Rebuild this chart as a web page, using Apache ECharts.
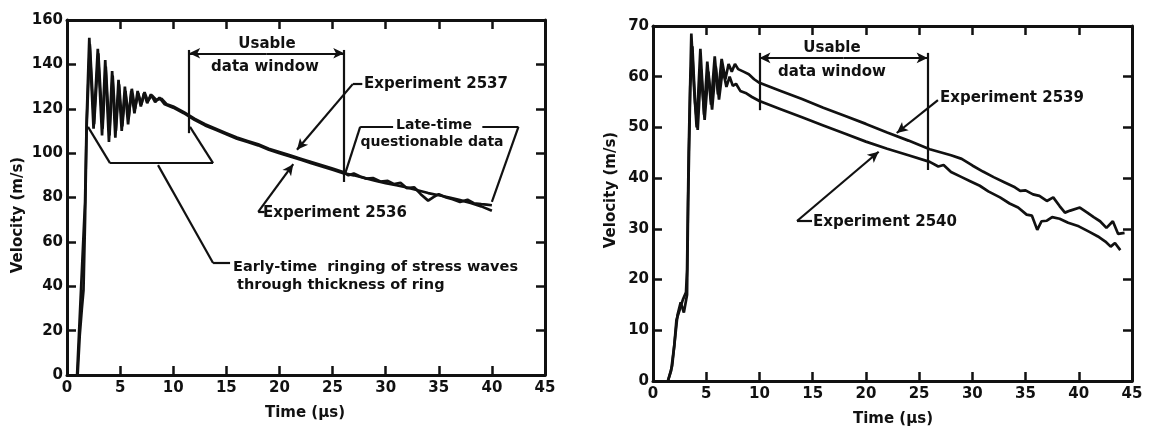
<!DOCTYPE html>
<html>
<head>
<meta charset="utf-8">
<script src="https://cdn.jsdelivr.net/npm/echarts@6/dist/echarts.min.js"></script>
<style>
  html, body { margin: 0; padding: 0; background: #fff; }
  #chart { width: 1151px; height: 430px; }
</style>
</head>
<body>
<div id="chart"></div>
<script>
// left panel: experiments 2536 / 2537 (time in us, velocity in m/s)
const t2536 = [0.95, 1.7, 1.85, 2.1, 2.5, 2.9, 3.3, 3.6, 3.95, 4.25, 4.55, 4.85, 5.15, 5.45, 5.75, 6.05, 6.35, 6.65, 6.95, 7.25, 7.55, 7.9, 8.3, 8.7, 9.2, 10,
  11, 12, 13, 14, 15, 16, 17, 18, 19, 20, 21, 22, 23, 24, 25, 26, 27, 28, 29, 30, 31, 32, 33, 34, 35, 36, 37, 38, 39, 40]
const v2536 = [0, 78, 115, 152, 111, 147, 108, 142, 105, 137, 107, 133, 110, 130, 113, 128, 118, 128, 121, 127, 122.5, 126.5, 123, 125, 122, 120.5,
  118, 115, 112.5, 110.5, 108.5, 106.5, 105, 103.5, 101.5, 100, 98.5, 97, 95.5, 94, 92.5, 91, 90, 88.8, 87.6, 86.5, 85.5, 84.5, 83.3, 82, 81, 80, 78.8, 77.5, 76, 74]

const t2537 = [1.0, 1.2, 1.4, 1.55, 1.7, 1.85, 2.15, 2.55, 2.95, 3.35, 3.65, 4.0, 4.3, 4.6, 4.9, 5.2, 5.5, 5.8, 6.1, 6.4, 6.7, 7.0, 7.3, 7.6, 8.0, 8.4, 8.9, 9.4, 10,
  11, 12, 13, 14, 15, 16, 17, 18, 19, 20, 21, 22, 23, 24, 25, 26, 26.5, 27, 27.6, 28.2, 28.8, 29.5, 30.2, 30.8, 31.4, 32, 32.7, 33.3, 34, 34.5, 35,
  35.7, 36.3, 37, 37.7, 38.3, 39, 39.5, 40]
const v2537 = [0, 18, 30, 38, 70, 112, 149, 113, 145, 111, 139, 108, 135, 110, 131, 112, 128, 116, 129, 120, 127, 122, 127.5, 123.5, 126, 124, 124.5, 122, 121,
  118.5, 115.5, 113, 111, 109, 107, 105.5, 104, 102, 100.5, 99, 97.5, 96, 94.5, 93, 91.5, 90, 90.8, 89.5, 88.5, 88.8, 87.2, 87.5, 86, 86.6, 84.2, 84.6, 81.5, 78.6, 80.2, 81.5,
  80, 79.2, 78, 79, 77.4, 77, 76.8, 76.5]

// right panel: experiments 2539 / 2540
const t2539 = [1.4, 1.7, 2.0, 2.2, 2.5, 2.8, 3.1, 3.2, 3.35, 3.6, 3.85, 4.1, 4.45, 4.8, 5.1, 5.45, 5.8, 6.1, 6.45, 6.8, 7.1, 7.4, 7.7, 8.0, 8.5, 9.0, 9.5, 10,
  12, 14, 16, 18, 20, 22, 24, 26, 28, 29, 30, 31, 32, 33, 34, 34.5, 35, 35.7, 36.3, 37, 37.6, 38.2, 38.7, 39.2, 40.1, 40.8, 41.4, 42, 42.6, 43.2, 43.7, 44.3]
const v2539 = [0, 2, 7, 12, 14, 16, 17.5, 22, 45, 68.5, 58, 50, 65.5, 52.5, 63, 54.5, 64, 56.5, 63.5, 59.5, 62.5, 61, 62.5, 61.5, 61, 60.5, 59.5, 58.8,
  57.2, 55.6, 53.9, 52.3, 50.7, 49, 47.4, 45.7, 44.5, 43.8, 42.5, 41.3, 40.2, 39.2, 38.2, 37.5, 37.6, 36.8, 36.5, 35.5, 36.2, 34.5, 33.2, 33.6, 34.2, 33.2, 32.3, 31.5, 30.2, 31.5, 29, 29.2]

const t2540 = [1.4, 1.8, 2.1, 2.3, 2.6, 2.9, 3.2, 3.3, 3.5, 3.7, 3.95, 4.2, 4.5, 4.85, 5.2, 5.55, 5.9, 6.2, 6.55, 6.9, 7.2, 7.5, 7.8, 8.2, 8.7, 9.3, 10,
  12, 14, 16, 18, 20, 22, 24, 26, 26.8, 27.3, 28, 29, 29.8, 30.7, 31.5, 32.6, 33.5, 34.3, 35.1, 35.6, 36.1, 36.5, 37, 37.5, 38.2, 39, 40, 41, 41.8, 42.5, 43, 43.4, 43.9]
const v2540 = [0, 3, 9, 13, 15.5, 13.5, 17, 35, 58, 66, 55, 49.5, 61.5, 51.5, 61, 53.5, 62, 55.5, 61.5, 58, 60, 58.2, 58.6, 57.2, 56.8, 56, 55.2,
  53.6, 52, 50.4, 48.8, 47.2, 45.8, 44.5, 43.2, 42.3, 42.6, 41.2, 40.2, 39.4, 38.5, 37.4, 36.2, 35, 34.2, 32.8, 32.6, 29.8, 31.5, 31.6, 32.3, 32, 31.2, 30.5, 29.4, 28.5, 27.5, 26.5, 27.2, 25.8]

// annotation leader lines, in data units [time, velocity]
const leftWindow = { from: 11.5, to: 26.1, arrowV: 145, top: 146.5, leftBottom: 109, rightBottom: 87 }
const rightWindow = { from: 10, to: 25.8, arrowV: 63.7, top: 64.7, leftBottom: 53.4, rightBottom: 41.6 }

const FONT = '"DejaVu Sans", "Liberation Sans", sans-serif'
const INK = '#111'

const pairs = (t, v) => t.map((x, i) => [x, v[i]])

const seg = (a, b, arrowA, arrowB) => [
  { coord: a, symbol: arrowA ? 'arrow' : 'none' },
  { coord: b, symbol: arrowB ? 'arrow' : 'none' }
]
const poly = (pts) => pts.slice(1).map((p, i) => seg(pts[i], p, false, false))

const leftMarks = [
  seg([leftWindow.from, leftWindow.top], [leftWindow.from, leftWindow.leftBottom]),
  seg([leftWindow.to, leftWindow.top], [leftWindow.to, leftWindow.rightBottom]),
  seg([(leftWindow.from + leftWindow.to) / 2, leftWindow.arrowV], [leftWindow.from, leftWindow.arrowV], false, true),
  seg([(leftWindow.from + leftWindow.to) / 2, leftWindow.arrowV], [leftWindow.to, leftWindow.arrowV], false, true),
  // Experiment 2537
  seg([27.8, 131.1], [26.9, 131.1]),
  seg([26.9, 131.1], [21.65, 101.5], false, true),
  // Experiment 2536
  seg([18.6, 73.5], [18.0, 73.5]),
  seg([18.0, 73.5], [21.3, 95], false, true),
  // late-time bracket
  ...poly([[30.7, 111.8], [27.6, 111.8], [26.2, 91]]),
  ...poly([[39.1, 111.8], [42.5, 111.8], [40.0, 78]]),
  // early-time bracket
  ...poly([[1.98, 111.8], [4.05, 95.5], [13.75, 95.5], [11.58, 111.8]]),
  ...poly([[8.57, 94.6], [13.75, 50.5], [15.35, 50.5]])
]

const rightMarks = [
  seg([rightWindow.from, rightWindow.top], [rightWindow.from, rightWindow.leftBottom]),
  seg([rightWindow.to, rightWindow.top], [rightWindow.to, rightWindow.rightBottom]),
  seg([(rightWindow.from + rightWindow.to) / 2, rightWindow.arrowV], [rightWindow.from, rightWindow.arrowV], false, true),
  seg([(rightWindow.from + rightWindow.to) / 2, rightWindow.arrowV], [rightWindow.to, rightWindow.arrowV], false, true),
  // Experiment 2539
  seg([26.77, 55.4], [22.9, 48.9], false, true),
  // Experiment 2540
  seg([14.94, 31.55], [13.53, 31.55]),
  seg([13.53, 31.55], [21.2, 45.2], false, true)
]

const axisLineStyle = { color: INK, width: 3 }
const tick = { show: true, inside: true, length: 9, lineStyle: { color: INK, width: 2.5 } }
const label = { color: INK, fontFamily: FONT, fontWeight: 'bold', fontSize: 15 }

const xBottom = (grid) => ({
  type: 'value', gridIndex: grid, min: 0, max: 45, interval: 5,
  axisLine: { lineStyle: axisLineStyle },
  axisTick: tick,
  axisLabel: { ...label, margin: 6 },
  splitLine: { show: false }
})
const xTop = (grid) => ({
  type: 'value', gridIndex: grid, position: 'top', min: 0, max: 45, interval: 5,
  axisLine: { onZero: false, lineStyle: axisLineStyle },
  axisTick: tick, axisLabel: { show: false }, splitLine: { show: false }
})
const yLeft = (grid, max, step) => ({
  type: 'value', gridIndex: grid, min: 0, max: max, interval: step,
  axisLine: { lineStyle: axisLineStyle },
  axisTick: tick,
  axisLabel: { ...label, margin: 4 },
  splitLine: { show: false }
})
const yRight = (grid, max, step) => ({
  type: 'value', gridIndex: grid, position: 'right', min: 0, max: max, interval: step,
  axisLine: { onZero: false, lineStyle: axisLineStyle },
  axisTick: tick, axisLabel: { show: false }, splitLine: { show: false }
})

const curve = (name, xi, yi, data, marks) => ({
  name, type: 'line', xAxisIndex: xi, yAxisIndex: yi,
  data, showSymbol: false, symbol: 'none', smooth: false,
  lineStyle: { color: INK, width: 2.7 },
  animation: false, silent: true,
  markLine: marks ? {
    silent: true, animation: false,
    symbolSize: [8, 11],
    label: { show: false },
    lineStyle: { color: INK, width: 2.2, type: 'solid' },
    emphasis: { disabled: true },
    data: marks
  } : undefined
})

const txt = (text, x, y, size, align) => ({
  type: 'text', x, y, silent: true,
  style: {
    text, fill: INK, fontFamily: FONT, fontWeight: 'bold', fontSize: size,
    textAlign: align || 'center', textVerticalAlign: 'middle'
  }
})

const chart = echarts.init(document.getElementById('chart'))
const option = {
  backgroundColor: '#fff',
  animation: false,
  grid: [
    { left: 67, top: 20, width: 478, height: 355 },
    { left: 653, top: 26, width: 479, height: 355 }
  ],
  xAxis: [xBottom(0), xTop(0), xBottom(1), xTop(1)],
  yAxis: [yLeft(0, 160, 20), yRight(0, 160, 20), yLeft(1, 70, 10), yRight(1, 70, 10)],
  series: [
    curve('Experiment 2536', 0, 0, pairs(t2536, v2536), leftMarks),
    curve('Experiment 2537', 0, 0, pairs(t2537, v2537)),
    curve('Experiment 2539', 2, 2, pairs(t2539, v2539), rightMarks),
    curve('Experiment 2540', 2, 2, pairs(t2540, v2540))
  ],
  graphic: [
    // axis names
    { type: 'text', x: 18, y: 215, rotation: Math.PI / 2, silent: true,
      style: { text: 'Velocity (m/s)', fill: INK, fontFamily: FONT, fontWeight: 'bold', fontSize: 15, textAlign: 'center', textVerticalAlign: 'middle' } },
    { type: 'text', x: 611, y: 190, rotation: Math.PI / 2, silent: true,
      style: { text: 'Velocity (m/s)', fill: INK, fontFamily: FONT, fontWeight: 'bold', fontSize: 15, textAlign: 'center', textVerticalAlign: 'middle' } },
    txt('Time (\u03bcs)', 305, 413, 15),
    txt('Time (\u03bcs)', 893, 419, 15),
    // left annotations
    txt('Usable', 267, 44, 15),
    txt('data window', 265, 67, 15),
    txt('Experiment 2537', 364, 84, 15, 'left'),
    txt('Late-time', 434, 125, 14),
    txt('questionable data', 432, 142, 14),
    txt('Experiment 2536', 263, 213, 15, 'left'),
    txt('Early-time  ringing of stress waves', 233, 267, 14.5, 'left'),
    txt('through thickness of ring', 237, 285, 14.5, 'left'),
    // right annotations
    txt('Usable', 832, 48, 15),
    txt('data window', 832, 72, 15),
    txt('Experiment 2539', 940, 98, 15, 'left'),
    txt('Experiment 2540', 813, 222, 15, 'left')
  ]
}
chart && chart.setOption(option)
</script>
</body>
</html>
